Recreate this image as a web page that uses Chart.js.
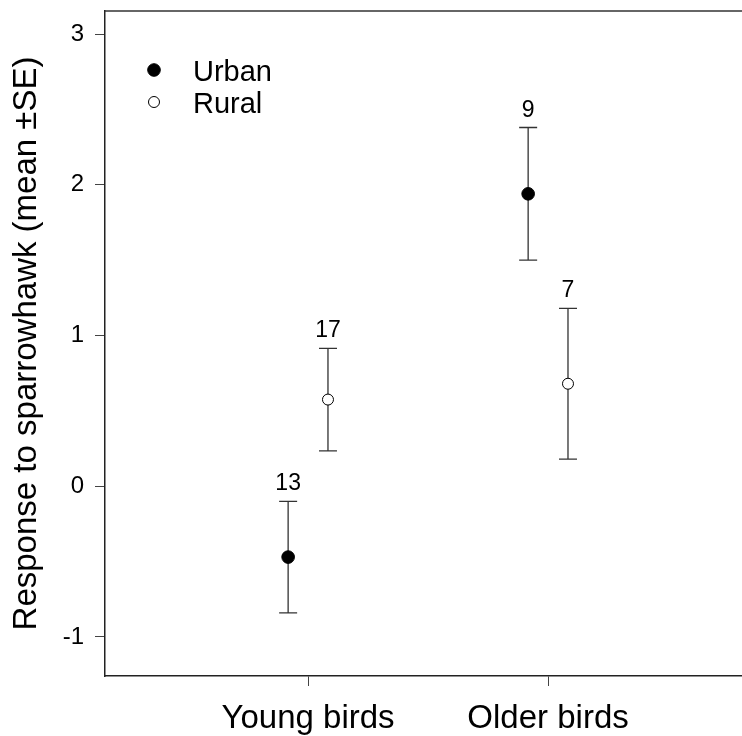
<!DOCTYPE html>
<html>
<head>
<meta charset="utf-8">
<script src="https://cdn.jsdelivr.net/npm/chart.js@4"></script>
<style>
    html, body { margin: 0; padding: 0; background: #fff; }
    #wrap { width: 742px; height: 736px; position: relative; }
</style>
</head>
<body>
<div id="wrap"><canvas id="chartSparrowhawk"></canvas></div>
<script>
// Response to sparrowhawk, urban vs rural birds

const categories = ['Young birds', 'Older birds'];
const urbanMean = [-0.47, 1.94];
const urbanSE = [0.37, 0.44];
const urbanN = [13, 9];
const ruralMean = [0.575, 0.68];
const ruralSE = [0.34, 0.5];
const ruralN = [17, 7];
const yTicks = [-1, 0, 1, 2, 3];

const DODGE = 0.083;
const FONT = "'Liberation Sans', Arial, sans-serif";

function toPoints(means, shift) {
    return means.map((m, i) => ({ x: i + 1 + shift, y: m }));
}

const errorBarPlugin = {
    id: 'errorBars',
    beforeDatasetsDraw(chart) {
        const ctx = chart.ctx;
        const xs = chart.scales.x;
        const ys = chart.scales.y;
        const groups = [
            { means: urbanMean, se: urbanSE, n: urbanN, shift: -DODGE },
            { means: ruralMean, se: ruralSE, n: ruralN, shift: DODGE }
        ];
        ctx.save();
        ctx.strokeStyle = '#333';
        ctx.lineWidth = 1.3;
        groups.forEach(g => {
            g.means.forEach((m, i) => {
                const px = xs.getPixelForValue(i + 1 + g.shift);
                const top = ys.getPixelForValue(m + g.se[i]);
                const bot = ys.getPixelForValue(m - g.se[i]);
                ctx.beginPath();
                ctx.moveTo(px, top);
                ctx.lineTo(px, bot);
                ctx.moveTo(px - 9, top);
                ctx.lineTo(px + 9, top);
                ctx.moveTo(px - 9, bot);
                ctx.lineTo(px + 9, bot);
                ctx.stroke();

                ctx.fillStyle = '#000';
                ctx.font = '23px ' + FONT;
                ctx.textAlign = 'center';
                ctx.textBaseline = 'alphabetic';
                ctx.fillText(String(g.n[i]), px, top - 11);
            });
        });
        ctx.restore();
    },
    afterDraw(chart) {
        const ctx = chart.ctx;
        const area = chart.chartArea;
        ctx.save();
        // top frame line
        ctx.strokeStyle = '#333';
        ctx.lineWidth = 1.5;
        ctx.beginPath();
        ctx.moveTo(area.left, area.top);
        ctx.lineTo(area.right, area.top);
        ctx.stroke();

        // legend
        const items = chart.data.datasets;
        ctx.font = '29px ' + FONT;
        ctx.textAlign = 'left';
        ctx.textBaseline = 'middle';
        items.forEach((ds, i) => {
            const cy = area.top + 59 + i * 32;
            const cx = area.left + 49;
            ctx.beginPath();
            ctx.arc(cx, cy, ds.pointRadius, 0, Math.PI * 2);
            ctx.fillStyle = ds.pointBackgroundColor;
            ctx.fill();
            ctx.lineWidth = ds.pointBorderWidth;
            ctx.strokeStyle = ds.pointBorderColor;
            ctx.stroke();
            ctx.fillStyle = '#000';
            ctx.fillText(ds.label, area.left + 88, cy + 3);
        });
        ctx.restore();
    }
};

function noEdgePadding(scale) {
    scale.paddingTop = 0;
    scale.paddingBottom = 0;
    scale.paddingLeft = 0;
    scale.paddingRight = 0;
}

const ctxChart = document.getElementById('chartSparrowhawk');
new Chart(ctxChart, {
    type: 'scatter',
    data: {
        datasets: [{
                label: 'Urban',
                data: toPoints(urbanMean, -DODGE),
                pointRadius: 6.3,
                pointHoverRadius: 6.3,
                pointBackgroundColor: '#000',
                pointBorderColor: '#000',
                pointBorderWidth: 1
            },
            {
                label: 'Rural',
                data: toPoints(ruralMean, DODGE),
                pointRadius: 5.5,
                pointHoverRadius: 5.5,
                pointBackgroundColor: '#fff',
                pointBorderColor: '#000',
                pointBorderWidth: 1
            }
        ]
    },
    options: {
        responsive: true,
        maintainAspectRatio: false,
        animation: false,
        layout: {
            autoPadding: false,
            padding: { top: 11, right: 0, bottom: 0, left: 0 }
        },
        plugins: {
            legend: { display: false },
            tooltip: { enabled: false }
        },
        scales: {
            x: {
                type: 'linear',
                min: 0.154,
                max: 2.808,
                afterBuildTicks(scale) {
                    scale.ticks = categories.map((c, i) => ({ value: i + 1 }));
                },
                afterFit(scale) {
                    scale.height = 60;
                    noEdgePadding(scale);
                },
                ticks: {
                    color: '#000',
                    font: { family: FONT, size: 33 },
                    padding: 13,
                    maxRotation: 0,
                    callback: (v) => categories[Math.round(v) - 1]
                },
                grid: {
                    drawOnChartArea: false,
                    drawTicks: true,
                    tickLength: 10,
                    tickColor: '#444'
                },
                border: { color: '#222', width: 1.5 }
            },
            y: {
                min: -1.259,
                max: 3.153,
                afterBuildTicks(scale) {
                    scale.ticks = yTicks.map(v => ({ value: v }));
                },
                afterFit(scale) {
                    scale.width = 105;
                    noEdgePadding(scale);
                },
                ticks: {
                    color: '#000',
                    font: { family: FONT, size: 24 },
                    padding: 11
                },
                grid: {
                    drawOnChartArea: false,
                    drawTicks: true,
                    tickLength: 10,
                    tickColor: '#444'
                },
                border: { color: '#222', width: 1.5 },
                title: {
                    display: true,
                    text: 'Response to sparrowhawk (mean \u00B1SE)',
                    color: '#000',
                    font: { family: FONT, size: 33 },
                    padding: { top: 7, bottom: 0 }
                }
            }
        }
    },
    plugins: [errorBarPlugin]
});
</script>
</body>
</html>
